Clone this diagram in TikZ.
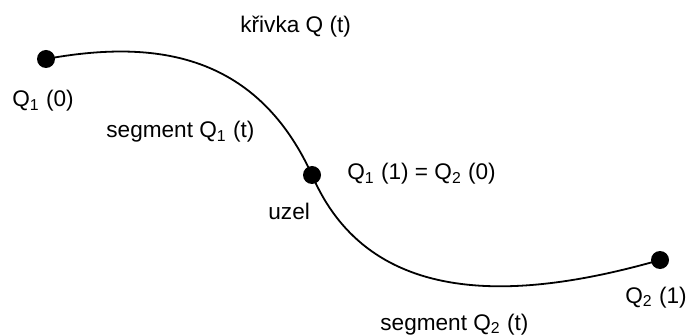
\documentclass[tikz,border=0pt]{standalone}
\usepackage{fontspec}
\setmainfont{Liberation Sans}
\usepackage{tikz}

\begin{document}
\begin{tikzpicture}[
  x=0.5pt, y=-0.5pt,
  dot/.style={circle, fill=black, inner sep=0pt, minimum size=9pt},
  lbl/.style={anchor=base west, inner sep=0pt, font=\fontsize{11.3}{13}\selectfont},
  curve/.style={line width=0.9pt, draw=black}
]
\useasboundingbox (0,0) rectangle (690,336);

% body of the curve
\node (q10)  [dot] at (46,59)   {};
\node (uzel) [dot] at (312,175) {};
\node (q21)  [dot] at (660,260) {};

\draw[curve] (q10.center) .. controls (150,40) and (255,50) .. (uzel.center)
  .. controls (370,310) and (520,300) .. (q21.center);

% texts
\node (krivka) [lbl] at (240,33)  {křivka Q (t)};
\node (lq10)   [lbl] at (12,107)  {Q\textsubscript{1} (0)};
\node (seg1)   [lbl] at (106,138) {segment Q\textsubscript{1} (t)};
\node (lknot)  [lbl] at (347,180) {Q\textsubscript{1} (1) = Q\textsubscript{2} (0)};
\node (luzel)  [lbl] at (268,220) {uzel};
\node (lq21)   [lbl] at (625,303) {Q\textsubscript{2} (1)};
\node (seg2)   [lbl] at (380,330) {segment Q\textsubscript{2} (t)};

\end{tikzpicture}
\end{document}
